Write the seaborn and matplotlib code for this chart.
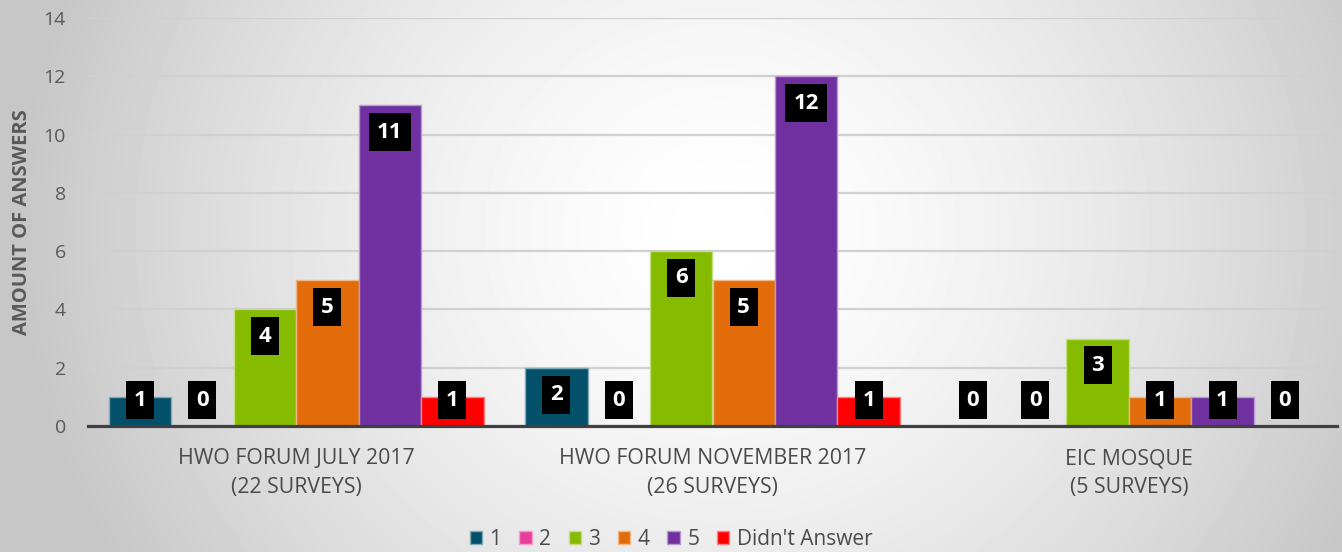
import matplotlib
matplotlib.use("Agg")
import matplotlib.pyplot as plt
import numpy as np
import pandas as pd
import seaborn as sns
from matplotlib.colors import to_rgb

surveys = ["HWO FORUM JULY 2017\n(22 SURVEYS)",
           "HWO FORUM NOVEMBER 2017\n(26 SURVEYS)",
           "EIC MOSQUE\n(5 SURVEYS)"]
answers = ["1", "2", "3", "4", "5", "Didn't Answer"]
counts_july = [1, 0, 4, 5, 11, 1]
counts_nov = [2, 0, 6, 5, 12, 1]
counts_eic = [0, 0, 3, 1, 1, 0]
colors = ["#03506B", "#E83F9B", "#86BC00", "#E36C0A", "#7030A0", "#FF0000"]

rows = []
for survey, counts in zip(surveys, [counts_july, counts_nov, counts_eic]):
    for ans, c in zip(answers, counts):
        rows.append({"survey": survey, "answer": ans, "count": c})
df = pd.DataFrame(rows)

sns.set_theme(style="white")
plt.rcParams["font.family"] = ["Open Sans", "DejaVu Sans"]
grey = "#595959"

W, H = 1342, 552
fig = plt.figure(figsize=(W / 100, H / 100), dpi=100)

# radial grey-to-white background
bg = fig.add_axes([0, 0, 1, 1], zorder=-10)
yy, xx = np.mgrid[0:H, 0:W]
d = np.sqrt(((xx - 720) / 700.0) ** 2 + ((yy - 230) / 650.0) ** 2)
shade = 1 - 0.22 * np.clip(d, 0, 1) ** 1.5
bg.imshow(shade, cmap="gray", vmin=0, vmax=1, aspect="auto", interpolation="bilinear")
bg.axis("off")

ax = fig.add_axes([88 / W, 126 / H, (1337 - 88) / W, (534 - 126) / H])
ax.patch.set_alpha(0)

sns.barplot(data=df, x="survey", y="count", hue="answer", palette=colors,
            width=0.9, gap=0, ax=ax, saturation=1, legend=True)

for patch in ax.patches:
    fc = np.array(to_rgb(patch.get_facecolor()))
    patch.set_edgecolor(tuple(fc * 0.5 + 0.5))
    patch.set_linewidth(1)

ax.set_xlim(-0.5, 2.5)
ax.set_ylim(0, 14)
ax.set_yticks(range(0, 15, 2))
ax.yaxis.grid(True, color="#D0D0D0", linewidth=1.6)
ax.set_axisbelow(True)
for s in ["top", "right", "left"]:
    ax.spines[s].set_visible(False)
ax.spines["bottom"].set_color("#404040")
ax.spines["bottom"].set_linewidth(2.3)
ax.spines["bottom"].set_zorder(5)
ax.tick_params(axis="y", length=0, pad=16, labelsize=14, labelcolor=grey)
ax.tick_params(axis="x", length=0, pad=16, labelsize=15.3, labelcolor="#4a4a4a")
for lbl in ax.get_xticklabels():
    lbl.set_linespacing(1.5)
ax.set_xlabel("")
ax.set_ylabel("AMOUNT OF ANSWERS", fontsize=14.5, fontweight="bold",
              color=grey, labelpad=8)

# black value boxes
for cont in ax.containers:
    for bar in cont:
        v = bar.get_height()
        cx = bar.get_x() + bar.get_width() / 2
        cy = max(v - 0.92, 0.89)
        txt = f"{v:.0f}"
        if len(txt) == 1:
            marker = [(-0.38, -0.5), (0.38, -0.5), (0.38, 0.5), (-0.38, 0.5), (-0.38, -0.5)]
            ms = 37.7 * 0.72
        else:
            marker = [(-0.5, -0.45), (0.5, -0.45), (0.5, 0.45), (-0.5, 0.45), (-0.5, -0.45)]
            ms = 41.5 * 0.72
        ax.plot(cx, cy, marker=marker, markersize=ms, color="black",
                markeredgewidth=0, zorder=6)
        ax.text(cx, cy, txt, ha="center", va="center", color="white",
                fontsize=16, fontweight="bold", zorder=7)

handles, labels = ax.get_legend_handles_labels()
ax.legend_.remove()
fig.legend(handles, labels, loc="lower center", bbox_to_anchor=(0.5, -0.03),
           ncol=6, frameon=False, fontsize=15, handlelength=0.6,
           handleheight=0.6, handletextpad=0.35, columnspacing=0.85,
           labelcolor="#4a4a4a")

fig.savefig("out.png", dpi=100)
